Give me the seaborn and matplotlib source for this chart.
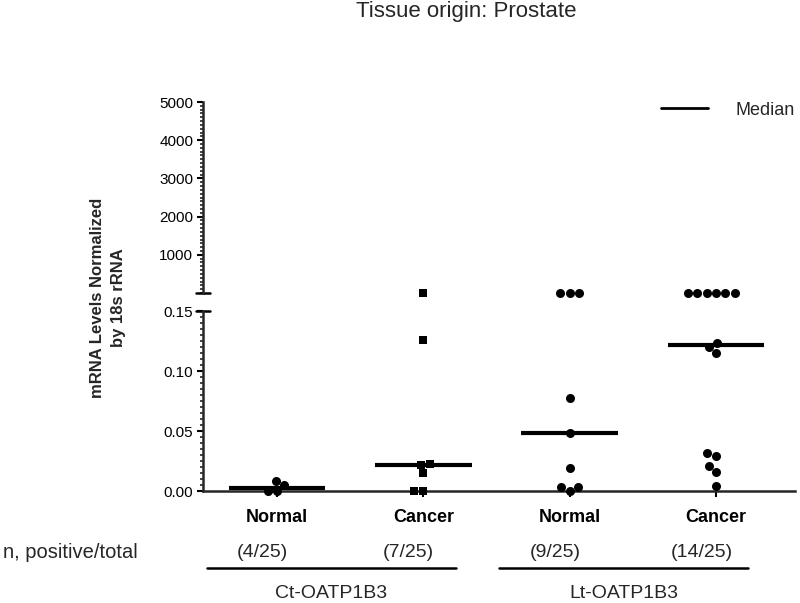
import numpy as np
import pandas as pd
import matplotlib
matplotlib.use("Agg")
import matplotlib.pyplot as plt
import matplotlib.transforms as mtransforms
from matplotlib.lines import Line2D
from matplotlib.ticker import MultipleLocator, FormatStrFormatter, FixedLocator
import seaborn as sns

# data (values above the break sit near the bottom of the 0-5000 scale)
groups = ["Ct Normal", "Ct Cancer", "Lt Normal", "Lt Cancer"]
tick_names = ["Normal", "Cancer", "Normal", "Cancer"]
ct_normal = [0.0, 0.0, 0.005, 0.0086]
ct_cancer = [0.0, 0.0, 0.0147, 0.0217, 0.0222, 0.126, 10.0]
lt_normal = [0.0, 0.003, 0.0036, 0.0189, 0.0486, 0.0778, 10.0, 10.0, 10.0]
lt_cancer = [0.0042, 0.0161, 0.0208, 0.0294, 0.0319, 0.1153, 0.1203, 0.1236,
             10.0, 10.0, 10.0, 10.0, 10.0, 10.0]
total_n = 25
gene_names = ["Ct-OATP1B3", "Lt-OATP1B3"]

values = [ct_normal, ct_cancer, lt_normal, lt_cancer]
df = pd.DataFrame({
    "group": np.repeat(groups, [len(v) for v in values]),
    "value": np.concatenate(values),
})
df["square"] = df["group"] == "Ct Cancer"
low = df[df["value"] <= 0.15]
high = df[df["value"] > 0.15]

sns.set_style("ticks")
plt.rcParams["font.family"] = ["Liberation Sans", "DejaVu Sans"]

fig = plt.figure(figsize=(8, 6.03), dpi=100)
ax_hi = fig.add_axes([0.25375, 0.5141, 0.74, 0.3167])
ax_lo = fig.add_axes([0.25375, 0.1857, 0.74, 0.2985])

for ax, part in [(ax_hi, high), (ax_lo, low)]:
    sns.swarmplot(data=part[~part["square"]], x="group", y="value", order=groups,
                  color="black", size=6.5, marker="o", linewidth=0, ax=ax)
    sns.swarmplot(data=part[part["square"]], x="group", y="value", order=groups,
                  color="black", size=6.2, marker="s", linewidth=0, ax=ax)
    for c in ax.collections:
        c.set_clip_on(False)
    ax.set_xlim(-0.506, 3.54)
    ax.set_xlabel("")
    ax.set_ylabel("")
    for s in ["top", "right"]:
        ax.spines[s].set_visible(False)
    ax.spines["left"].set_linewidth(1.8)
    ax.tick_params(axis="y", which="major", direction="out", length=4, width=1.5,
                   labelsize=11, colors="black", pad=3)
    ax.tick_params(axis="y", which="minor", direction="out", length=2.2, width=1.2)

# upper segment
ax_hi.set_ylim(0, 5000)
ax_hi.yaxis.set_major_locator(FixedLocator([1000, 2000, 3000, 4000, 5000]))
ax_hi.yaxis.set_minor_locator(MultipleLocator(100))
ax_hi.yaxis.set_major_formatter(FormatStrFormatter("%d"))
ax_hi.spines["bottom"].set_visible(False)
ax_hi.set_xticks([])
ax_hi.axhline(0, xmin=-0.012, xmax=0.012, color="black", lw=1.8, clip_on=False)

# lower segment
ax_lo.set_ylim(0, 0.15)
ax_lo.yaxis.set_major_locator(MultipleLocator(0.05))
ax_lo.yaxis.set_minor_locator(MultipleLocator(0.005))
ax_lo.yaxis.set_major_formatter(FormatStrFormatter("%.2f"))
ax_lo.spines["bottom"].set_linewidth(1.8)
ax_lo.set_xticks(range(len(groups)))
ax_lo.set_xticklabels(tick_names, fontsize=13, fontweight="bold")
ax_lo.tick_params(axis="x", direction="out", length=4, width=1.5, pad=9, colors="black")
ax_lo.axhline(0.15, xmin=-0.012, xmax=0.012, color="black", lw=1.8, clip_on=False)

# medians
medians = [np.median(v) for v in values]
ax_lo.hlines(medians, np.arange(len(groups)) - 0.33, np.arange(len(groups)) + 0.33,
             color="black", lw=3, zorder=1)

# counts row and gene brackets
trans = mtransforms.blended_transform_factory(ax_lo.transData, ax_lo.transAxes)
for i, v in enumerate(values):
    ax_lo.text(i - 0.1, -0.339, f"({len(v)}/{total_n})", transform=trans,
               ha="center", va="center", fontsize=14)
for g, name in enumerate(gene_names):
    ax_lo.plot([2 * g - 0.48, 2 * g + 1.22], [-0.428, -0.428], transform=trans,
               color="black", lw=1.8, clip_on=False)
    ax_lo.text(2 * g + 0.37, -0.567, name, transform=trans,
               ha="center", va="center", fontsize=14)
fig.text(138 / 800, 1 - 552 / 603, "n, positive/total", ha="right", va="center", fontsize=14.5)

# y label and title
fig.text(108 / 800, 1 - 298 / 603, "mRNA Levels Normalized\nby 18s rRNA", rotation=90,
         ha="center", va="center", fontsize=12, fontweight="bold", linespacing=1.55)
fig.text(466 / 800, 1 - 12 / 603, "Tissue origin: Prostate", ha="center", va="center",
         fontsize=16)

fig.legend(handles=[Line2D([], [], color="black", lw=2)], labels=["Median"],
           loc="center left", bbox_to_anchor=(661 / 800, 1 - 110 / 603), frameon=False,
           fontsize=13, handlelength=2.6, handletextpad=1.5, borderpad=0, borderaxespad=0)

fig.savefig("out.png", dpi=100, facecolor="white")
